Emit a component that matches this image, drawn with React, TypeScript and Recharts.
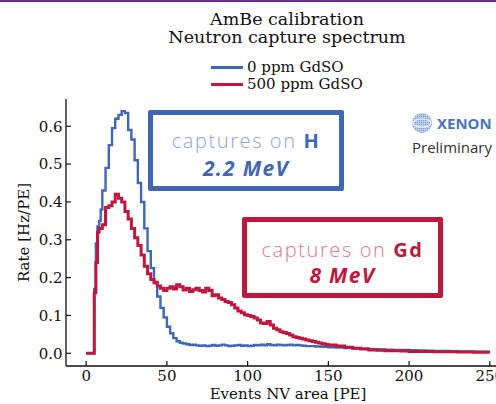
import React from "react";
import { LineChart, Line, XAxis, YAxis, Legend } from "recharts";

// left edge of each histogram bin [PE]
const binStart = [
  0, 5, 6, 7, 8, 9, 10,
  12, 14, 16, 18, 20, 22, 24, 26, 28, 30, 32, 34, 36, 38, 40, 42, 44, 46, 48, 50,
  52, 54, 56, 58, 60, 62, 64, 66, 68, 70, 72, 74, 76, 78, 80, 82, 84, 86, 88, 90,
  92, 94, 96, 98, 100, 102, 104, 106, 108, 110, 112, 114, 116, 118, 120, 122, 124, 126, 128, 130,
  132, 134, 136, 138, 140, 142, 144, 146, 148, 150,
  155, 160, 165, 170, 175, 180, 185, 190, 195, 200, 205, 210, 215, 220, 225, 230, 235, 240, 245,
  250,
];

// 0 ppm GdSO  [Hz/PE]
const rate0ppm = [
  0, 0.17, 0.29, 0.335, 0.35, 0.38, 0.43,
  0.49, 0.55, 0.595, 0.62, 0.63, 0.64, 0.635, 0.59, 0.565, 0.51, 0.45, 0.4, 0.33, 0.27, 0.225, 0.185, 0.15, 0.12, 0.095, 0.07,
  0.053, 0.04, 0.032, 0.028, 0.026, 0.024, 0.022, 0.023, 0.021, 0.02, 0.021, 0.019, 0.02, 0.022, 0.02, 0.021, 0.023, 0.021, 0.019, 0.02,
  0.021, 0.022, 0.02, 0.021, 0.019, 0.02, 0.022, 0.021, 0.023, 0.021, 0.024, 0.022, 0.021, 0.023, 0.022, 0.021, 0.022, 0.023, 0.021, 0.022,
  0.021, 0.02, 0.019, 0.019, 0.019, 0.018, 0.018, 0.017, 0.017, 0.016,
  0.015, 0.014, 0.013, 0.012, 0.011, 0.01, 0.0095, 0.009, 0.0085, 0.008, 0.0075, 0.007, 0.0065, 0.006, 0.0055, 0.005, 0.0048, 0.0045, 0.004,
  0.004,
];

// 500 ppm GdSO  [Hz/PE]
const rate500ppm = [
  0, 0.16, 0.24, 0.32, 0.33, 0.33, 0.34,
  0.385, 0.39, 0.4, 0.42, 0.41, 0.4, 0.375, 0.355, 0.33, 0.305, 0.285, 0.26, 0.23, 0.21, 0.195, 0.188, 0.178, 0.172, 0.166, 0.172,
  0.176, 0.17, 0.181, 0.176, 0.167, 0.172, 0.163, 0.168, 0.172, 0.166, 0.162, 0.172, 0.166, 0.152, 0.155, 0.146, 0.142, 0.137, 0.134, 0.128,
  0.12, 0.112, 0.107, 0.102, 0.1, 0.097, 0.093, 0.088, 0.08, 0.079, 0.084, 0.075, 0.066, 0.062, 0.057, 0.055, 0.052, 0.048, 0.044, 0.042,
  0.04, 0.038, 0.035, 0.033, 0.031, 0.029, 0.027, 0.025, 0.023, 0.022,
  0.019, 0.016, 0.013, 0.011, 0.009, 0.008, 0.007, 0.0065, 0.006, 0.005, 0.0048, 0.0045, 0.0042, 0.004, 0.0038, 0.0035, 0.0033, 0.003, 0.003,
  0.003,
];

const xTicks = [0, 50, 100, 150, 200, 250];
const yTicks = [0, 0.1, 0.2, 0.3, 0.4, 0.5, 0.6];

const data = binStart.map((x, i) => ({ x, h: rate0ppm[i], gd: rate500ppm[i] }));

const BLUE = "#3f67b4";
const RED = "#c0173f";
const INK = "#111";
const SERIF = "'DejaVu Serif', serif";
const SANS = "'Open Sans', 'Noto Sans', sans-serif";

const XTick = ({ x, y, payload }: any) => (
  <g>
    <line x1={x} x2={x} y1={y} y2={y - 5} stroke={INK} strokeWidth={1.2} />
    <text x={x} y={y + 15} textAnchor="middle" fontSize={15} fontFamily={SERIF} fill={INK}>
      {payload.value}
    </text>
  </g>
);

const YTick = ({ x, y, payload }: any) => (
  <g>
    <line x1={x} x2={x + 5} y1={y} y2={y} stroke={INK} strokeWidth={1.2} />
    <text x={x - 3.5} y={y} dy="0.36em" textAnchor="end" fontSize={15} fontFamily={SERIF} fill={INK}>
      {payload.value.toFixed(1)}
    </text>
  </g>
);

const renderLegend = ({ payload }: any) => (
  <div style={{ fontFamily: SERIF, fontSize: 15, color: INK }}>
    {(payload || []).map((p: any) => (
      <div key={p.value} style={{ display: "flex", alignItems: "center", height: 17 }}>
        <span style={{ width: 32, borderTop: `3px solid ${p.color}`, marginRight: 4 }} />
        <span>{p.value}</span>
      </div>
    ))}
  </div>
);

const Globe = () => (
  <svg width={22} height={22} style={{ position: "absolute", left: 411, top: 112 }}>
    <defs>
      <pattern id="dots" width={2} height={2} patternUnits="userSpaceOnUse">
        <rect width={1.3} height={1.3} fill="#7f9fd6" />
      </pattern>
    </defs>
    <circle cx={11} cy={11} r={10} fill="#c9d7f0" />
    <circle cx={11} cy={11} r={10} fill="url(#dots)" />
    <ellipse cx={11} cy={11} rx={9} ry={4} fill="none" stroke="#eef3fb" strokeWidth={1.2} />
  </svg>
);

const boxLine = { position: "absolute" as const, left: 0, right: 0, fontSize: 20, letterSpacing: 1.6, lineHeight: "22px" };

export default function App() {
  return (
    <div style={{ position: "fixed", left: 0, top: 0, width: 496, height: 404, overflow: "hidden", background: "#fff" }}>
      <div style={{ position: "absolute", left: 0, top: 0, width: 496, height: 2, background: "#6b2d8a" }} />
      <div
        style={{
          position: "absolute", left: 137, top: 10.3, width: 300, textAlign: "center",
          fontFamily: SERIF, fontSize: 17.5, lineHeight: "18px", color: INK,
        }}
      >
        AmBe calibration
        <br />
        Neutron capture spectrum
      </div>

      <div style={{ position: "absolute", left: 0, top: 0 }}>
        <LineChart width={512} height={404} data={data} margin={{ top: 99, right: 2, left: 0, bottom: 0 }}>
          <XAxis
            dataKey="x" type="number" domain={[-12.5, 262.5]} ticks={xTicks} interval={0}
            allowDataOverflow height={38} tickLine={false} tickSize={0} tickMargin={0}
            axisLine={{ stroke: INK, strokeWidth: 1.3 }} tick={<XTick />}
            label={{
              content: ({ viewBox }: any) => (
                <text x={viewBox.x + viewBox.width / 2} y={viewBox.y + 33} textAnchor="middle"
                  fontSize={15} fontFamily={SERIF} fill={INK}>
                  Events NV area [PE]
                </text>
              ),
            }}
          />
          <XAxis
            xAxisId="top" orientation="top" dataKey="x" type="number" domain={[-12.5, 262.5]}
            height={0} tick={false} tickLine={false} axisLine={{ stroke: INK, strokeWidth: 1.3 }}
          />
          <YAxis
            type="number" domain={[-0.0336, 0.672]} ticks={yTicks} interval={0} allowDataOverflow
            width={66} tickLine={false} tickSize={0} tickMargin={0}
            axisLine={{ stroke: INK, strokeWidth: 1.3 }} tick={<YTick />}
            label={{
              content: ({ viewBox }: any) => {
                const cy = viewBox.y + viewBox.height / 2;
                return (
                  <text x={29} y={cy} transform={`rotate(-90, 29, ${cy})`} textAnchor="middle"
                    fontSize={15} fontFamily={SERIF} fill={INK}>
                    Rate [Hz/PE]
                  </text>
                );
              },
            }}
          />
          <Legend
            layout="horizontal" verticalAlign="middle" align="center"
            wrapperStyle={{ left: 211, top: 58.5, width: "auto" }}
            content={renderLegend}
          />
          <Line
            type="stepAfter" dataKey="h" name="0 ppm GdSO" stroke={BLUE} strokeWidth={2.4}
            dot={false} isAnimationActive={false}
          />
          <Line
            type="stepAfter" dataKey="gd" name="500 ppm GdSO" stroke={RED} strokeWidth={3}
            dot={false} isAnimationActive={false}
          />
        </LineChart>
      </div>

      {/* annotation boxes */}
      <div
        style={{
          position: "absolute", left: 148, top: 110, width: 196, height: 81, boxSizing: "border-box",
          border: `5px solid ${BLUE}`, borderRadius: 2, fontFamily: SANS, textAlign: "center", color: BLUE,
        }}
      >
        <div style={{ ...boxLine, top: 15 }}>
          <span style={{ fontWeight: 300, color: "#8aa3d8" }}>captures on </span>
          <span style={{ fontWeight: 700 }}>H</span>
        </div>
        <div style={{ ...boxLine, top: 42, fontSize: 21, fontWeight: 700, fontStyle: "italic", letterSpacing: 1.3 }}>
          2.2 MeV
        </div>
      </div>
      <div
        style={{
          position: "absolute", left: 242, top: 217, width: 201, height: 81, boxSizing: "border-box",
          border: `5px solid ${RED}`, borderRadius: 2, fontFamily: SANS, textAlign: "center", color: RED,
        }}
      >
        <div style={{ ...boxLine, top: 17 }}>
          <span style={{ fontWeight: 300, color: "#d87a92" }}>captures on </span>
          <span style={{ fontWeight: 700 }}>Gd</span>
        </div>
        <div style={{ ...boxLine, top: 42, fontSize: 21, fontWeight: 700, fontStyle: "italic", letterSpacing: 1.3 }}>
          8 MeV
        </div>
      </div>

      {/* XENON mark */}
      <Globe />
      <div style={{ position: "absolute", left: 437, top: 113, fontFamily: SANS, fontWeight: 700, fontSize: 15, color: "#4b74bd", lineHeight: "20px" }}>
        XENON
      </div>
      <div style={{ position: "absolute", left: 412, top: 137, fontFamily: SANS, fontSize: 15, color: "#333", lineHeight: "20px" }}>
        Preliminary
      </div>
    </div>
  );
}
